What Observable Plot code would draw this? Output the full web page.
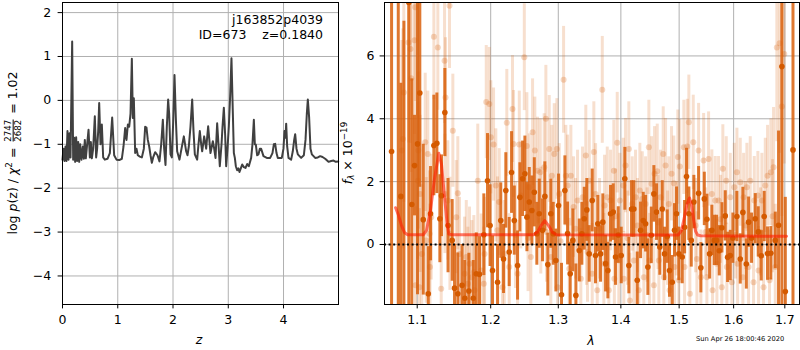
<!DOCTYPE html>
<html><head><meta charset="utf-8">
<script src="https://cdn.jsdelivr.net/npm/d3@7"></script>
<script src="https://cdn.jsdelivr.net/npm/@observablehq/plot@0.6"></script>
<style>
html,body{margin:0;padding:0;background:#fff;}
#wrap{position:relative;width:800px;height:350px;overflow:hidden;font-family:"DejaVu Sans",sans-serif;color:#000;background:#fff;}
#wrap svg{position:absolute;top:0;}
.lbl{position:absolute;white-space:nowrap;font-size:12.5px;line-height:1;z-index:5;}
.ctr{transform:translate(-50%,-50%);}
.rot{transform:translate(-50%,-50%) rotate(-90deg);}
.frac{display:inline-flex;flex-direction:column;vertical-align:middle;font-size:8.6px;line-height:1;text-align:center;margin:0 2px;}
.frac span:first-child{border-bottom:0.8px solid #000;padding-bottom:0.5px;}
.sup{font-size:0.7em;vertical-align:0.55em;}
.sub{font-size:0.7em;vertical-align:-0.3em;}
</style></head>
<body>
<div id="wrap"></div>
<script>
// ---------- left panel: log p(z) ----------
const zL = [0.000,0.018,0.036,0.054,0.072,0.090,0.109,0.127,0.145,0.175,0.193,0.211,0.229,0.247,0.265,0.284,0.302,0.320,0.344,0.368,0.386,0.404,0.422,0.446,0.471,0.495,0.513,0.531,0.555,0.585,0.609,0.627,0.646,0.664,0.688,0.712,0.736,0.766,0.814,0.857,0.899,0.935,0.977,1.026,1.074,1.104,1.134,1.158,1.183,1.207,1.231,1.255,1.273,1.291,1.315,1.339,1.363,1.400,1.436,1.472,1.496,1.520,1.544,1.569,1.593,1.617,1.641,1.677,
1.719,1.755,1.786,1.816,1.840,1.864,1.888,1.912,1.930,1.955,1.979,2.003,2.027,2.051,2.075,2.117,2.154,2.196,2.238,2.262,2.286,2.316,2.347,2.371,2.395,2.437,2.461,2.485,2.510,2.528,2.564,2.600,2.636,2.678,2.721,2.745,2.769,2.799,2.823,2.847,2.878,2.896,2.920,2.944,2.962,2.986,3.010,3.034,3.058,3.083,3.101,3.119,3.137,3.161,3.185,3.203,3.227,3.252,3.282,3.312,3.342,3.372,
3.414,3.438,3.463,3.481,3.499,3.523,3.547,3.571,3.595,3.637,3.698,3.758,3.800,3.825,3.849,3.873,3.897,3.969,3.999,4.018,4.036,4.048,4.066,4.090,4.138,4.168,4.193,4.211,4.235,4.259,4.319,4.368,4.398,4.422,4.440,4.464,4.488,4.513,4.573,4.621,4.663,4.706,4.754,4.814,4.862,4.905,4.947,4.990];
const lnpL = [-1.35,-1.10,-1.38,-1.05,-1.38,-0.70,-1.35,-0.75,-1.30,1.34,-1.35,-0.85,-1.40,-0.84,-1.38,-0.95,-1.40,-1.00,-1.35,-1.05,-1.33,-0.90,-1.32,-1.00,-0.67,-1.30,-0.95,-1.32,-1.10,-0.36,-1.30,-1.10,-0.70,-0.06,-1.00,-0.55,-1.30,-1.35,-1.33,-1.20,-0.39,-1.25,-1.35,-1.36,-1.33,-1.05,-0.63,-0.90,-0.55,-0.60,-0.30,0.95,-0.40,0.05,-1.20,-1.10,-1.25,-1.28,-1.30,-1.10,-0.60,-0.62,-0.90,-1.05,-1.25,-1.42,-1.30,-1.18,
-1.25,-1.39,-1.00,-0.44,-1.10,-1.47,-0.60,0.02,-0.30,-1.23,-1.30,-0.50,0.58,-0.40,-1.16,-1.35,-1.10,-0.82,-1.16,-1.25,-1.05,-0.60,0.02,-0.70,-1.23,-1.35,-1.00,-0.70,-1.00,-1.16,-0.82,-1.10,-0.59,-1.20,-0.93,-1.10,-1.31,-0.52,-1.00,-1.50,-1.00,-0.60,-0.17,-0.80,-1.50,-1.10,-0.60,0.10,0.96,-0.30,-1.20,-1.31,-1.50,-1.59,-1.55,-1.63,-1.55,-1.46,-1.52,-1.54,-1.45,-1.50,
-1.31,-1.00,-0.44,-1.00,-1.01,-1.25,-1.23,-1.10,-1.10,-1.27,-1.31,-1.31,-1.20,-1.00,-0.99,-1.20,-1.31,-1.31,-1.10,-0.70,-0.85,-0.53,-1.05,-1.31,-1.35,-1.16,-0.90,-0.77,-1.10,-1.23,-1.31,-1.25,-0.90,-0.30,0.02,-0.40,-1.10,-1.23,-1.31,-1.30,-1.27,-1.29,-1.33,-1.40,-1.38,-1.37,-1.40,-1.39];
const zTicks = [0,1,2,3,4];
const lnpTicks = [-4,-3,-2,-1,0,1,2];

// ---------- right panel: spectrum ----------
const darkLam = [1.0671,1.0756,1.0789,1.0828,1.0891,1.0930,1.0965,1.1004,1.1034,1.1079,
1.1145,1.1175,1.1219,1.1259,1.1299,1.1321,1.1366,1.1409,1.1465,1.1497,
1.1542,1.1600,1.1638,1.1694,1.1755,1.1797,1.1842,1.1903,1.1955,1.1991,
1.2026,1.2098,1.2144,1.2184,1.2217,1.2266,1.2300,1.2340,1.2388,1.2422,
1.2462,1.2496,1.2526,1.2561,1.2600,1.2636,1.2674,1.2710,1.2760,1.2795,
1.2840,1.2886,1.2923,1.2963,1.3004,1.3050,1.3102,1.3144,1.3185,1.3226,
1.3274,1.3327,1.3368,1.3406,1.3447,1.3485,1.3533,1.3586,1.3623,1.3667,
1.3704,1.3749,1.3786,1.3830,1.3874,1.3912,1.3957,1.4006,1.4066,1.4133,
1.4178,1.4217,1.4274,1.4330,1.4376,1.4416,1.4455,1.4513,1.4558,1.4604,
1.4661,1.4703,1.4743,1.4790,1.4830,1.4878,1.4918,1.4954,1.4995,1.5055,
1.5097,1.5132,1.5174,1.5217,1.5264,1.5350,1.5391,1.5454,1.5502,1.5551,
1.5593,1.5638,1.5680,1.5730,1.5779,1.5842,1.5886,1.5936,1.5986,1.6062,
1.6126,1.6176,1.6242,1.6286,1.6343,1.6415,1.6473,1.6532,1.6590,1.6655,
1.6721,1.6809,1.6874,1.6941,1.7010,1.7165];
const darkFlux = [2.96,-2.3,1.53,-2.6,7.7,1.27,2.51,3.2,4.82,0.79,
-1.57,0.98,3.15,3.22,0.82,1.55,4.2,0.6,0.13,-1.39,
-1.57,-1.3,-1.71,-1.48,-1.71,-0.93,-0.95,0.31,2.03,0.6,
-0.83,-1.2,0.76,-0.46,1.72,-0.24,2.29,0.76,-0.67,1.5,
2.09,2.25,0.87,1.35,1.08,1.66,0.34,0.98,0.45,1.53,
-0.64,0.98,0.34,-0.51,1.24,-1.6,1.72,0.35,-0.93,0.13,
-1.62,-0.19,0.34,0.82,1.1,-0.3,1.4,-0.35,0.66,-0.3,
0.71,-0.61,-0.83,0.98,1.03,-0.4,0.3,-0.35,2.09,-0.67,
1.13,1.13,-1.14,0.45,0.76,0.66,-0.72,0.29,1.61,1.03,
-0.08,1.13,-0.3,0.25,-0.83,-1.2,0.45,0.98,-0.3,-0.4,
0.55,2.16,0.98,0.13,1.35,1.63,-0.74,1.45,0.8,-0.3,
0.45,0.13,0.13,-0.2,0.53,0.91,-0.41,-0.35,0.2,0.89,
-0.46,1.02,-0.62,0.71,0.2,0.82,0.4,-0.36,0.89,-0.29,
-0.28,0.13,0.61,5.66,-1.5,3.01];
const darkErr = [20,10,3.6,9.7,12,4.0,1.6,4.8,3.0,2.4,
1.5,1.5,1.6,1.6,1.4,1.3,1.4,1.5,1.3,1.4,
1.3,1.3,1.2,1.2,1.2,1.3,1.2,1.3,1.5,1.3,
1.1,1.2,1.2,1.1,1.2,1.1,1.3,1.1,1.1,1.1,
1.2,1.2,1.1,1.1,1.1,1.1,1.0,1.1,1.0,1.1,
1.0,1.1,1.0,1.0,1.0,1.0,1.1,1.0,1.0,1.0,
1.0,1.0,1.0,1.0,1.0,0.9,1.0,0.9,0.9,0.9,
0.9,0.9,0.9,0.9,0.9,0.9,0.9,0.9,1.0,0.9,
0.9,0.9,0.9,0.9,0.9,0.9,0.9,0.9,0.9,0.9,
0.9,0.9,0.85,0.85,0.85,0.85,0.85,0.85,0.85,0.85,
0.85,0.9,0.85,0.85,0.85,0.85,0.8,0.85,0.8,0.8,
0.8,0.8,0.8,0.8,0.8,0.8,0.8,0.8,0.8,0.8,
0.8,0.8,0.8,0.8,0.8,0.8,0.8,0.8,0.8,0.85,
0.85,0.9,3.0,12,3.0,12];

const lightLam = [1.0802,1.0814,1.0827,1.0887,1.0913,1.0922,1.0965,1.0974,1.0977,1.1008,1.1014,1.1030,1.1039,1.1060,1.1105,1.1118,1.1139,1.1162,1.1167,1.1184,
1.1219,1.1272,1.1317,1.1362,1.1367,1.1375,1.1406,1.1429,1.1434,1.1474,1.1520,1.1542,1.1565,1.1634,1.1658,1.1680,1.1703,1.1735,1.1763,1.1773,
1.1818,1.1866,1.1903,1.1913,1.1937,1.1980,1.2002,1.2041,1.2073,1.2097,1.2122,1.2169,1.2194,1.2231,1.2266,1.2314,1.2329,1.2358,1.2388,1.2413,
1.2436,1.2487,1.2525,1.2543,1.2561,1.2584,1.2610,1.2644,1.2684,1.2725,1.2734,1.2785,1.2810,1.2820,1.2861,1.2886,1.2901,1.2938,1.2978,1.2989,
1.3015,1.3035,1.3082,1.3117,1.3144,1.3170,1.3195,1.3237,1.3269,1.3300,1.3352,1.3379,1.3431,1.3442,1.3458,1.3486,1.3533,1.3559,1.3587,1.3614,
1.3651,1.3695,1.3721,1.3732,1.3776,1.3802,1.3830,1.3884,1.3892,1.3912,1.3940,1.3966,1.3983,1.4039,1.4049,1.4078,1.4111,1.4133,1.4150,1.4190,
1.4217,1.4246,1.4279,1.4301,1.4318,1.4359,1.4386,1.4416,1.4441,1.4472,1.4484,1.4518,1.4558,1.4570,1.4616,1.4630,1.4644,1.4673,1.4720,1.4731,
1.4761,1.4796,1.4818,1.4831,1.4866,1.4906,1.4919,1.4954,1.4977,1.4995,1.5013,1.5084,1.5097,1.5145,1.5174,1.5192,1.5253,1.5295,1.5319,1.5350,
1.5391,1.5441,1.5478,1.5501,1.5533,1.5593,1.5606,1.5656,1.5686,1.5717,1.5754,1.5778,1.5797,1.5861,1.5872,1.5936,1.5967,1.6012,1.6037,1.6062,
1.6075,1.6126,1.6176,1.6190,1.6228,1.6253,1.6286,1.6318,1.6382,1.6396,1.6466,1.6479,1.6518,1.6544,1.6577,1.6611,1.6656,1.6695,1.6721,1.6755,
1.6775,1.6809,1.6840,1.6894,1.6940,1.6989];
const lightFlux = [2.99,3.36,4.84,6.43,6.22,5.29,6.50,7.55,-1.30,2.03,2.99,-1.36,1.61,-0.30,3.25,0.13,2.88,0.34,-0.72,0.87,
6.61,6.27,-1.41,5.85,1.61,4.68,1.40,7.60,0.34,3.62,0.87,1.63,-0.30,-0.93,-0.40,-1.25,-0.61,-1.04,-0.88,-1.46,
2.03,-0.83,-1.25,-0.30,4.53,4.47,3.41,3.18,1.88,0.45,1.35,-1.36,-0.30,3.87,-0.72,4.31,3.20,0.30,-0.93,3.18,
1.56,5.96,3.13,0.20,1.82,-0.40,3.57,2.99,2.35,2.30,0.76,2.46,4.00,0.40,3.04,-0.40,2.19,2.88,3.04,-1.36,
1.61,0.10,5.24,2.19,1.88,-0.77,2.19,1.19,0.50,1.40,-1.09,1.50,2.83,0.30,-0.24,2.03,-0.93,2.94,1.61,-1.46,
0.50,4.92,-0.61,1.24,1.50,-1.46,1.40,2.35,-1.09,0.90,3.24,-0.51,1.40,1.88,-1.09,2.51,0.20,3.04,-1.78,1.29,
-0.51,1.50,0.60,-1.46,1.72,1.45,-1.04,1.29,0.30,3.09,-0.51,1.93,-1.30,2.25,2.33,0.70,-0.51,1.50,2.88,-1.04,
2.51,0.20,1.29,-1.46,2.25,1.95,-0.72,0.50,2.78,-1.14,2.48,3.09,-0.72,3.12,3.89,-1.57,3.25,0.60,-0.46,2.99,
-1.04,2.67,0.40,-1.04,2.72,1.61,-1.46,1.40,-0.61,1.40,0.80,-1.36,2.41,2.03,-0.72,1.50,-1.20,1.82,0.30,2.30,
-0.61,1.98,-1.04,1.50,0.60,1.82,-0.72,2.03,-1.20,1.40,1.56,-0.83,0.40,1.40,-1.36,1.88,2.19,-1.14,2.30,0.90,
2.46,-0.72,6.27,6.40,4.39,6.06];
const lightErr = [3.5,3.5,3.5,3.2,3.0,3.0,3.0,3.0,2.5,2.5,2.5,2.5,2.5,2.2,2.2,2.0,2.0,2.0,2.0,2.0,
2.0,2.0,2.0,2.0,1.9,1.9,1.9,2.0,1.8,1.8,1.8,1.8,1.8,1.8,1.8,1.8,1.8,1.8,1.8,1.8,
1.8,1.8,1.8,1.8,1.8,1.8,1.8,1.8,1.8,1.7,1.7,1.7,1.7,1.7,1.7,1.7,1.7,1.7,1.7,1.7,
1.7,1.7,1.7,1.7,1.7,1.7,1.7,1.7,1.7,1.7,1.7,1.7,1.7,1.6,1.7,1.6,1.6,1.6,1.6,1.6,
1.6,1.6,1.7,1.6,1.6,1.6,1.6,1.6,1.6,1.6,1.6,1.6,1.6,1.6,1.6,1.6,1.6,1.6,1.6,1.6,
1.6,1.7,1.6,1.6,1.6,1.6,1.6,1.6,1.6,1.5,1.6,1.5,1.5,1.5,1.5,1.5,1.5,1.5,1.5,1.5,
1.5,1.5,1.5,1.5,1.5,1.5,1.5,1.5,1.5,1.5,1.5,1.5,1.5,1.5,1.5,1.5,1.5,1.5,1.5,1.5,
1.5,1.5,1.5,1.5,1.5,1.5,1.5,1.5,1.5,1.5,1.5,1.5,1.5,1.5,1.5,1.5,1.5,1.5,1.5,1.5,
1.5,1.5,1.4,1.4,1.5,1.4,1.4,1.4,1.4,1.4,1.4,1.4,1.4,1.4,1.4,1.4,1.4,1.4,1.4,1.4,
1.4,1.4,1.4,1.4,1.4,1.4,1.4,1.4,1.4,1.4,1.4,1.4,1.4,1.5,1.5,1.5,1.6,1.6,1.7,1.8,
1.9,2.0,3.0,3.5,3.5,3.5];

const modelLam = [1.0722,1.0760,1.0798,1.0836,1.0875,1.1079,1.1122,1.1175,1.1228,1.1285,1.1321,1.1362,1.1395,1.1419,1.1469,1.2625,1.2684,1.2744,1.2794,1.2851,1.2912,1.2973,1.4984,1.5043,1.5097,1.5142,1.5186,1.5222,1.5259,1.5295,1.5332,1.5386,1.7035];
const modelFlux = [1.17,0.92,0.60,0.38,0.31,0.31,0.45,1.10,2.10,2.90,2.55,1.50,0.70,0.33,0.31,0.31,0.40,0.62,0.76,0.60,0.38,0.31,0.30,0.45,0.90,1.30,1.48,1.25,0.80,0.42,0.30,0.28,0.26];

const lamTicks = [1.1,1.2,1.3,1.4,1.5,1.6,1.7];
const fluxTicks = [0,2,4,6];

// ---------- build ----------
const fmt = d => d < 0 ? "\u2212" + Math.abs(d) : String(d);
const gridStyle = {stroke: "#b0b0b0", strokeWidth: 1};
const baseStyle = {fontFamily: "DejaVu Sans", fontSize: "12.5px", color: "#000", background: "transparent", overflow: "visible"};

const leftData = zL.map((z, i) => ({z, v: lnpL[i]}));
const left = Plot.plot({
  width: 345, height: 350,
  marginLeft: 62, marginRight: 7, marginTop: 2, marginBottom: 46,
  style: baseStyle,
  x: {domain: [0, 4.995]},
  y: {domain: [-4.65, 2.23]},
  marks: [
    Plot.ruleX(zTicks, gridStyle),
    Plot.ruleY(lnpTicks, gridStyle),
    Plot.line(leftData, {x: "z", y: "v", stroke: "#404040", strokeWidth: 2, strokeLinejoin: "round"}),
    Plot.frame({stroke: "#000", strokeWidth: 1}),
    Plot.axisX({ticks: zTicks, tickSize: 4.4, tickPadding: 6.6, label: null, tickFormat: fmt, fontSize: 12.5}),
    Plot.axisY({ticks: lnpTicks, tickSize: 4.4, tickPadding: 7, label: null, tickFormat: fmt, fontSize: 12.5})
  ]
});

const dark = darkLam.map((lam, i) => ({lam, f: darkFlux[i], e: darkErr[i]}));
const light = lightLam.map((lam, i) => ({lam, f: lightFlux[i], e: lightErr[i]}));
const model = modelLam.map((lam, i) => ({lam, f: modelFlux[i]}));
const orange = "#d9600c";

const right = Plot.plot({
  width: 455, height: 350,
  marginLeft: 39, marginRight: 1, marginTop: 2, marginBottom: 46,
  style: baseStyle,
  x: {type: "log", domain: [1.0582, 1.7298]},
  y: {domain: [-1.91, 7.70]},
  marks: [
    Plot.ruleX(lamTicks, gridStyle),
    Plot.ruleY(fluxTicks, gridStyle),
    Plot.ruleX(light, {x: "lam", y1: d => d.f - d.e, y2: d => d.f + d.e, stroke: orange, strokeOpacity: 0.2, strokeWidth: 3, clip: true}),
    Plot.dot(light, {x: "lam", y: "f", r: 3, fill: orange, fillOpacity: 0.25, clip: true}),
    Plot.ruleX(dark, {x: "lam", y1: d => d.f - d.e, y2: d => d.f + d.e, stroke: orange, strokeOpacity: 0.85, strokeWidth: 3, clip: true}),
    Plot.dot(dark, {x: "lam", y: "f", r: 2.8, fill: "#d45a00", clip: true}),
    Plot.line(model, {x: "lam", y: "f", stroke: "#ff1a00", strokeOpacity: 0.6, strokeWidth: 3, strokeLinejoin: "round"}),
    Plot.ruleY([0], {stroke: "#000", strokeWidth: 2, strokeDasharray: "2,2.6"}),
    Plot.frame({stroke: "#000", strokeWidth: 1}),
    Plot.axisX({ticks: lamTicks, tickSize: 4.4, tickPadding: 6.6, label: null, tickFormat: d => d.toFixed(1), fontSize: 12.5}),
    Plot.axisY({ticks: fluxTicks, tickSize: 4.4, tickPadding: 5.6, label: null, tickFormat: fmt, fontSize: 12.5})
  ]
});

const wrap = document.getElementById("wrap");
left.style.left = "0px";
right.style.left = "345px";
wrap.appendChild(left);
wrap.appendChild(right);

function addLabel(html, css, cls) {
  const d = document.createElement("div");
  d.className = "lbl " + (cls || "");
  d.innerHTML = html;
  Object.assign(d.style, css);
  wrap.appendChild(d);
  return d;
}
addLabel('log <i>p</i>(z) / <i>χ</i><span class="sup">2</span> = <span class="frac"><span>2747</span><span>2682</span></span> = 1.02', {left: "13px", top: "153px"}, "rot");
addLabel('<i>f</i><span class="sub"><i>λ</i></span> × 10<span class="sup">\u221219</span>', {left: "348px", top: "153px"}, "rot");
addLabel('<i>z</i>', {left: "199px", top: "340px"}, "ctr");
addLabel('<i>λ</i>', {left: "591px", top: "341px"}, "ctr");
addLabel('j163852p4039', {left: "0px", width: "323px", textAlign: "right", top: "14px"});
addLabel('ID=673    z=0.1840', {left: "0px", width: "323px", textAlign: "right", top: "28.5px", whiteSpace: "pre"});
addLabel('Sun Apr 26 18:00:46 2020', {left: "696px", top: "336px", fontSize: "6.7px"});
</script>
</body></html>
